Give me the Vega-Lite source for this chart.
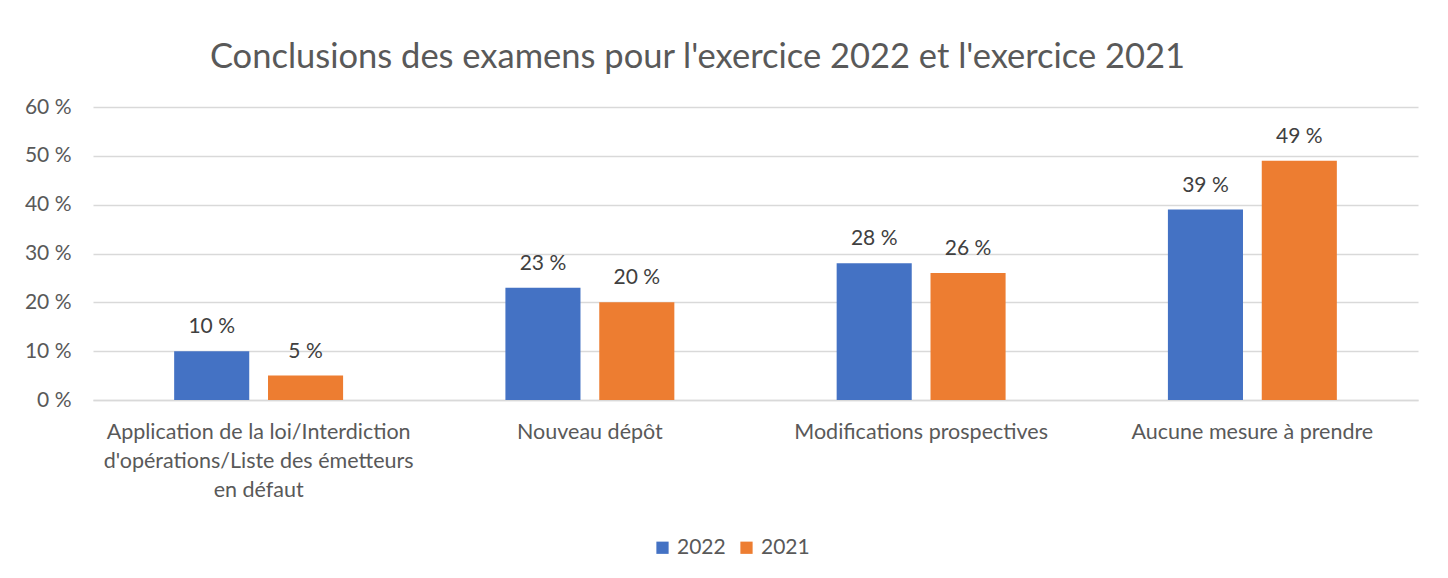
{
  "$schema": "https://vega.github.io/schema/vega-lite/v6.json",
  "autosize": {"type": "none"},
  "width": 1325,
  "height": 293,
  "padding": {"left": 93, "top": 107, "right": 30, "bottom": 178},
  "background": "#ffffff",
  "config": {
    "font": "Lato",
    "view": {"stroke": null}
  },
  "title": {
    "text": "Conclusions des examens pour l'exercice 2022 et l'exercice 2021",
    "font": "Lato",
    "fontSize": 34.5,
    "fontWeight": "normal",
    "color": "#595959",
    "anchor": "middle",
    "dx": -58,
    "offset": 21
  },
  "data": {
    "values": [
      {"categorie": "Application de la loi/Interdiction d'opérations/Liste des émetteurs en défaut", "exercice": "2022", "valeur": 10},
      {"categorie": "Application de la loi/Interdiction d'opérations/Liste des émetteurs en défaut", "exercice": "2021", "valeur": 5},
      {"categorie": "Nouveau dépôt", "exercice": "2022", "valeur": 23},
      {"categorie": "Nouveau dépôt", "exercice": "2021", "valeur": 20},
      {"categorie": "Modifications prospectives", "exercice": "2022", "valeur": 28},
      {"categorie": "Modifications prospectives", "exercice": "2021", "valeur": 26},
      {"categorie": "Aucune mesure à prendre", "exercice": "2022", "valeur": 39},
      {"categorie": "Aucune mesure à prendre", "exercice": "2021", "valeur": 49}
    ]
  },
  "encoding": {
    "x": {
      "field": "categorie",
      "type": "nominal",
      "sort": null,
      "scale": {"paddingInner": 0.49, "paddingOuter": 0.245},
      "axis": {
        "title": null,
        "labelAngle": 0,
        "labelFontSize": 21.5,
        "labelColor": "#595959",
        "labelPadding": 21,
        "labelLimit": 0,
        "labelLineHeight": 29,
        "labelBaseline": "top",
        "ticks": false,
        "domainColor": "#d9d9d9",
        "domainWidth": 1.5,
        "labelExpr": "substring(datum.label, 0, 11) == 'Application' ? ['Application de la loi/Interdiction', \"d'opérations/Liste des émetteurs\", 'en défaut'] : datum.label"
      }
    },
    "xOffset": {
      "field": "exercice",
      "type": "nominal",
      "sort": ["2022", "2021"],
      "scale": {"paddingInner": 0.2, "paddingOuter": 0}
    },
    "y": {
      "field": "valeur",
      "type": "quantitative",
      "scale": {"domain": [0, 60], "nice": false},
      "axis": {
        "title": null,
        "values": [0, 10, 20, 30, 40, 50, 60],
        "labelExpr": "datum.value + ' %'",
        "labelFontSize": 21,
        "labelColor": "#595959",
        "labelPadding": 22,
        "ticks": false,
        "domain": false,
        "gridColor": "#d9d9d9",
        "gridWidth": 1.5
      }
    }
  },
  "layer": [
    {
      "mark": {"type": "bar"},
      "encoding": {
        "color": {
          "field": "exercice",
          "type": "nominal",
          "sort": ["2022", "2021"],
          "scale": {"domain": ["2022", "2021"], "range": ["#4472C4", "#ED7D31"]},
          "legend": {
            "title": null,
            "orient": "none",
            "direction": "horizontal",
            "legendX": 559,
            "legendY": 430,
            "symbolType": "square",
            "symbolSize": 150,
            "symbolStrokeWidth": 0,
            "labelFontSize": 21,
            "labelColor": "#595959",
            "columnPadding": 10,
            "labelOffset": 4
          }
        }
      }
    },
    {
      "mark": {
        "type": "text",
        "dy": -24,
        "fontSize": 21,
        "color": "#404040",
        "text": {"expr": "datum.valeur + ' %'"}
      },
      "encoding": {}
    }
  ]
}
